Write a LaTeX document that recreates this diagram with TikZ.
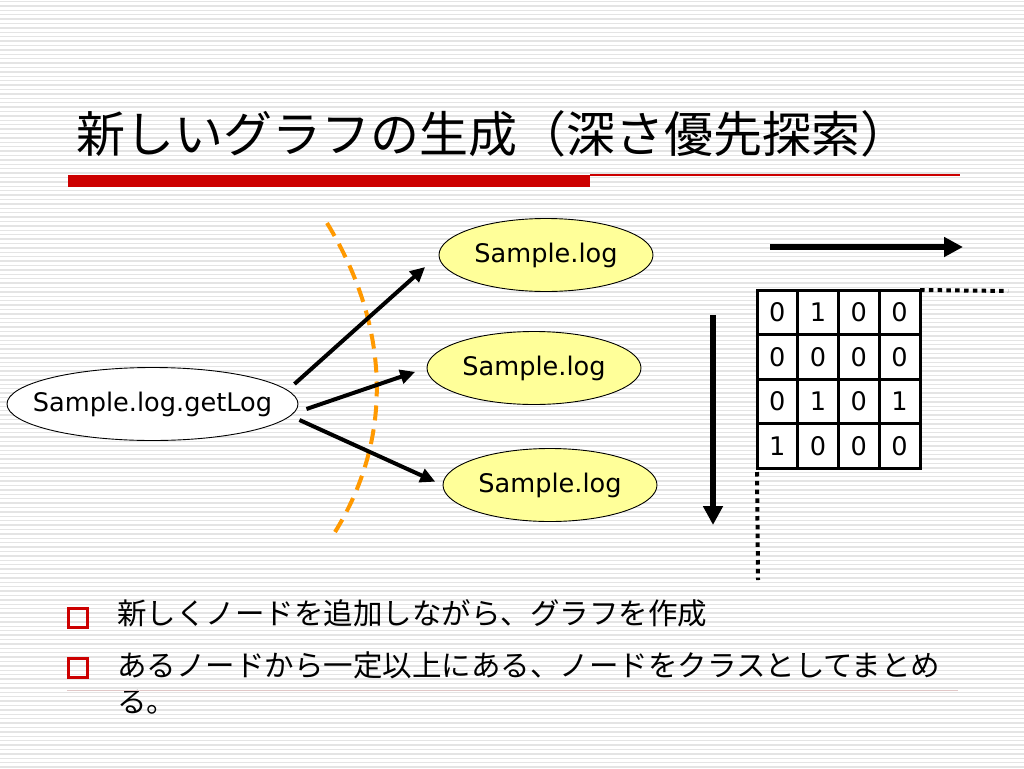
\documentclass[tikz,border=0pt]{standalone}
\usepackage{fontspec}
\setmainfont{DejaVu Sans}
\newfontfamily\jp{Noto Sans CJK JP}
\usetikzlibrary{shapes.geometric,arrows.meta,calc,matrix}
\definecolor{pptred}{RGB}{204,0,0}
\definecolor{orng}{RGB}{255,153,0}
\definecolor{lyellow}{RGB}{255,255,153}
\definecolor{stripecol}{RGB}{228,228,228}
\definecolor{faintline}{RGB}{225,200,200}
\tikzset{
  stripeline/.style={stripecol, line width=1.5pt},
  ell/.style={ellipse, draw=black, line width=0.9pt, inner sep=0pt,
    font=\fontsize{25.6}{30}\selectfont},
  logell/.style={ell, fill=lyellow, minimum width=214pt, minimum height=73pt},
  arr/.style={line width=4pt, -{Triangle[length=15pt,width=14pt]}},
  bigarr/.style={line width=6pt, -{Triangle[length=19pt,width=19pt]}},
  mcell/.style={draw=black, line width=3pt, fill=white, minimum width=40.75pt,
    minimum height=44.5pt, inner sep=0pt, outer sep=0pt, anchor=center,
    font=\fontsize{25.6}{30}\selectfont},
  dotline/.style={line width=4pt, dash pattern=on 4.5pt off 4.3pt},
  bsq/.style={draw=pptred, line width=3.5pt, minimum size=19pt, inner sep=0pt},
  jptext/.style={anchor=west, inner sep=0pt, font=\jp\fontsize{29.5}{34}\selectfont}
}
\begin{document}
\begin{tikzpicture}[x=1pt,y=-1pt]
\useasboundingbox (0,0) rectangle (1024,768);
\fill[white] (0,0) rectangle (1024,768);
\foreach \i in {0,...,174} \draw[stripeline] (0,\i*4.4+1.5) -- (1024,\i*4.4+1.5);

% title
\node[anchor=west, inner sep=0pt, font=\jp\fontsize{49}{55}\selectfont] (title) at (76,134) {新しいグラフの生成（深さ優先探索）};
\fill[pptred] (68,175) rectangle (590,187);
\draw[pptred, line width=1.2pt] (590,175) -- (960,175);

% nodes
\node[ell, fill=white, minimum width=291pt, minimum height=73pt] (g) at (152.5,404) {\makebox[0pt][c]{Sample.log.getLog}};
\node[logell] (s1) at (546,255) {\makebox[0pt][c]{Sample.log}};
\node[logell] (s2) at (534,368) {\makebox[0pt][c]{Sample.log}};
\node[logell] (s3) at (550,485) {\makebox[0pt][c]{Sample.log}};

% orange dashed boundary
\coordinate (c1) at (327,223);
\coordinate (c2) at (335,532);
\draw[orng, line width=4pt, dash pattern=on 15pt off 9pt] (c1) .. controls (392,330) and (392,440) .. (c2);

% arrows
\draw[arr, shorten >=18pt] ($(g.east)+(-4,-20)$) -- (s1.west);
\draw[arr, shorten >=12pt] ($(g.east)+(8,5)$) -- (s2.west);
\draw[arr, shorten >=8pt] ($(g.east)+(1,16)$) -- (s3.west);

% matrix
\matrix (m) [matrix of nodes, nodes={mcell}, column sep=-3pt, row sep=-3pt,
  inner sep=0pt, outer sep=0pt, anchor=north west] at (755.5,288.5) {
  0 & 1 & 0 & 0 \\
  0 & 0 & 0 & 0 \\
  0 & 1 & 0 & 1 \\
  1 & 0 & 0 & 0 \\
};
\coordinate (dh) at (1008,291);
\coordinate (dv) at (758,580);
\draw[dotline] (m-1-4.north east) -- (dh);
\draw[dotline, shorten <=4pt] (m-4-1.south west) -- (dv);

% direction arrows
\coordinate (ha1) at (770,247);
\coordinate (ha2) at (963,247);
\draw[bigarr] (ha1) -- (ha2);
\coordinate (va1) at (713,315);
\coordinate (va2) at (713,525);
\draw[bigarr] (va1) -- (va2);

% bullets
\node[bsq] (q1) at (78,618) {};
\node[bsq] (q2) at (78,668) {};
\node[jptext] (b1) at (117,613.5) {新しくノードを追加しながら、グラフを作成};
\node[jptext] (b2) at (117,665) {あるノードから一定以上にある、ノードをクラスとしてまとめ};
\node[jptext] (b3) at (117,702.5) {る。};
\draw[faintline, line width=1pt] (67,690) -- (958,690);
\end{tikzpicture}
\end{document}
